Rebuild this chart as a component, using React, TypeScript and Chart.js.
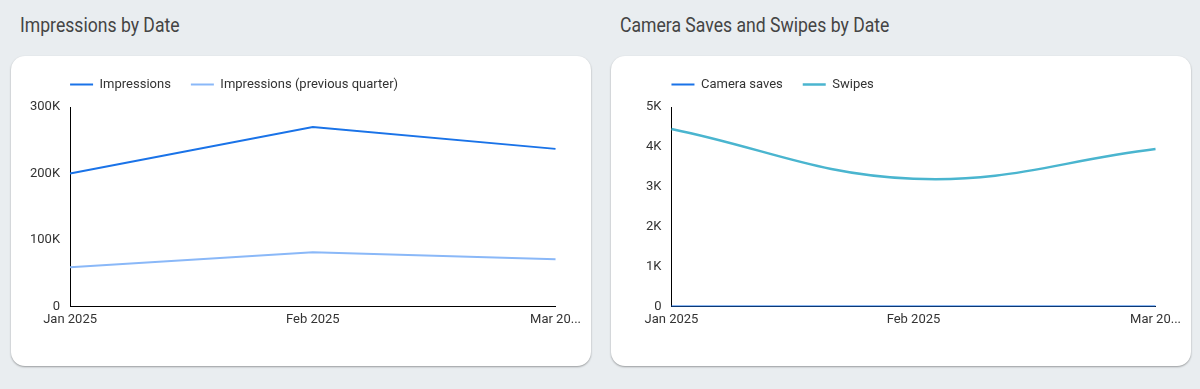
import React, { useEffect, useRef } from "react";
import { Chart, registerables } from "chart.js";

Chart.register(...registerables);

const categories = ["Jan 2025", "Feb 2025", "Mar 2025"];
const xTickLabels = ["Jan 2025", "Feb 2025", "Mar 20..."];

const impressions = [200000, 270000, 237000];
const impressionsPrev = [59000, 81500, 71000];
const impTicks = [0, 100000, 200000, 300000];
const impTickLabels = ["0", "100K", "200K", "300K"];

const cameraSaves = [0, 0, 0];
const swipes = [4450, 3200, 3945];
const swTicks = [0, 1000, 2000, 3000, 4000, 5000];
const swTickLabels = ["0", "1K", "2K", "3K", "4K", "5K"];

const FONT = "Roboto, 'Noto Sans', sans-serif";
const TEXT = "#333333";
const LEGEND_EXTRA = 6;

const legendShift = {
  id: "legendShift",
  beforeLayout(chart: any) {
    const lg = chart.legend;
    if (lg && !lg._patchedFit) {
      const orig = lg.fit.bind(lg);
      lg.fit = function () {
        orig();
        this.height += LEGEND_EXTRA;
      };
      lg._patchedFit = true;
    }
  },
  afterLayout(chart: any) {
    const lg = chart.legend;
    if (lg && chart.chartArea) {
      const pad = lg.options.labels.padding || 10;
      lg.left = chart.chartArea.left - pad;
    }
  },
};

function makeConfig(
  datasets: any[],
  max: number,
  ticks: number[],
  tickLabels: string[]
): any {
  return {
    type: "line",
    data: { labels: categories, datasets },
    plugins: [legendShift],
    options: {
      animation: false,
      responsive: false,
      maintainAspectRatio: false,
      layout: { padding: 0 },
      elements: { point: { radius: 0, hoverRadius: 0 } },
      plugins: {
        tooltip: { enabled: false },
        legend: {
          display: true,
          position: "top",
          align: "start",
          labels: {
            usePointStyle: true,
            pointStyle: "line",
            pointStyleWidth: 23,
            boxHeight: 13,
            padding: 20,
            color: TEXT,
            font: { family: FONT, size: 13 },
          },
        },
      },
      scales: {
        x: {
          type: "category",
          offset: false,
          grid: { display: false, drawTicks: false },
          border: { display: true, color: "#000000", width: 1 },
          ticks: {
            color: TEXT,
            font: { family: FONT, size: 13 },
            maxRotation: 0,
            autoSkip: false,
            padding: 6,
            callback: (_v: any, i: number) => xTickLabels[i],
          },
        },
        y: {
          min: 0,
          max,
          grid: { display: false, drawTicks: false },
          border: { display: true, color: "#000000", width: 1 },
          afterBuildTicks: (axis: any) => {
            axis.ticks = ticks.map((v) => ({ value: v }));
          },
          ticks: {
            color: TEXT,
            font: { family: FONT, size: 13 },
            padding: 10,
            callback: (v: any) => tickLabels[ticks.indexOf(Number(v))] ?? "",
          },
        },
      },
    },
  };
}

function ChartCanvas(props: {
  config: any;
  left: number;
  top: number;
  width: number;
  height: number;
}) {
  const ref = useRef<HTMLCanvasElement | null>(null);
  useEffect(() => {
    if (!ref.current) return;
    const chart = new Chart(ref.current, props.config);
    return () => chart.destroy();
  }, []);
  return (
    <canvas
      ref={ref}
      width={props.width}
      height={props.height}
      style={{
        position: "absolute",
        left: props.left,
        top: props.top,
        width: props.width,
        height: props.height,
      }}
    />
  );
}

const cardStyle = (left: number): React.CSSProperties => ({
  position: "absolute",
  left,
  top: 56,
  width: 580,
  height: 310,
  background: "#ffffff",
  borderRadius: 14,
  boxShadow: "0 1px 2px rgba(0,0,0,0.35)",
});

const titleStyle = (left: number): React.CSSProperties => ({
  position: "absolute",
  left,
  top: 13,
  fontFamily: FONT,
  fontSize: 20,
  color: "#444444",
  whiteSpace: "nowrap",
  transform: "scaleX(0.88)",
  transformOrigin: "left top",
});

export default function App() {
  const impConfig = makeConfig(
    [
      {
        label: "Impressions",
        data: impressions,
        borderColor: "#1a73e8",
        backgroundColor: "#1a73e8",
        borderWidth: 2,
        tension: 0,
      },
      {
        label: "Impressions (previous quarter)",
        data: impressionsPrev,
        borderColor: "#8ab8f8",
        backgroundColor: "#8ab8f8",
        borderWidth: 2,
        tension: 0,
      },
    ],
    300000,
    impTicks,
    impTickLabels
  );
  const swConfig = makeConfig(
    [
      {
        label: "Camera saves",
        data: cameraSaves,
        borderColor: "#1a73e8",
        backgroundColor: "#1a73e8",
        borderWidth: 2,
        tension: 0.4,
      },
      {
        label: "Swipes",
        data: swipes,
        borderColor: "#4ab5cf",
        backgroundColor: "#4ab5cf",
        borderWidth: 2.5,
        tension: 0.4,
      },
    ],
    5000,
    swTicks,
    swTickLabels
  );
  return (
    <div
      style={{
        position: "absolute",
        left: 0,
        top: 0,
        width: 1200,
        height: 389,
        background: "#e9edf0",
        overflow: "hidden",
      }}
    >
      <div style={titleStyle(20)}>Impressions by Date</div>
      <div style={titleStyle(620)}>Camera Saves and Swipes by Date</div>
      <div style={cardStyle(11)} />
      <div style={cardStyle(611)} />
      <ChartCanvas config={impConfig} left={20} top={58} width={567} height={276} />
      <ChartCanvas config={swConfig} left={636} top={58} width={551} height={276} />
    </div>
  );
}
